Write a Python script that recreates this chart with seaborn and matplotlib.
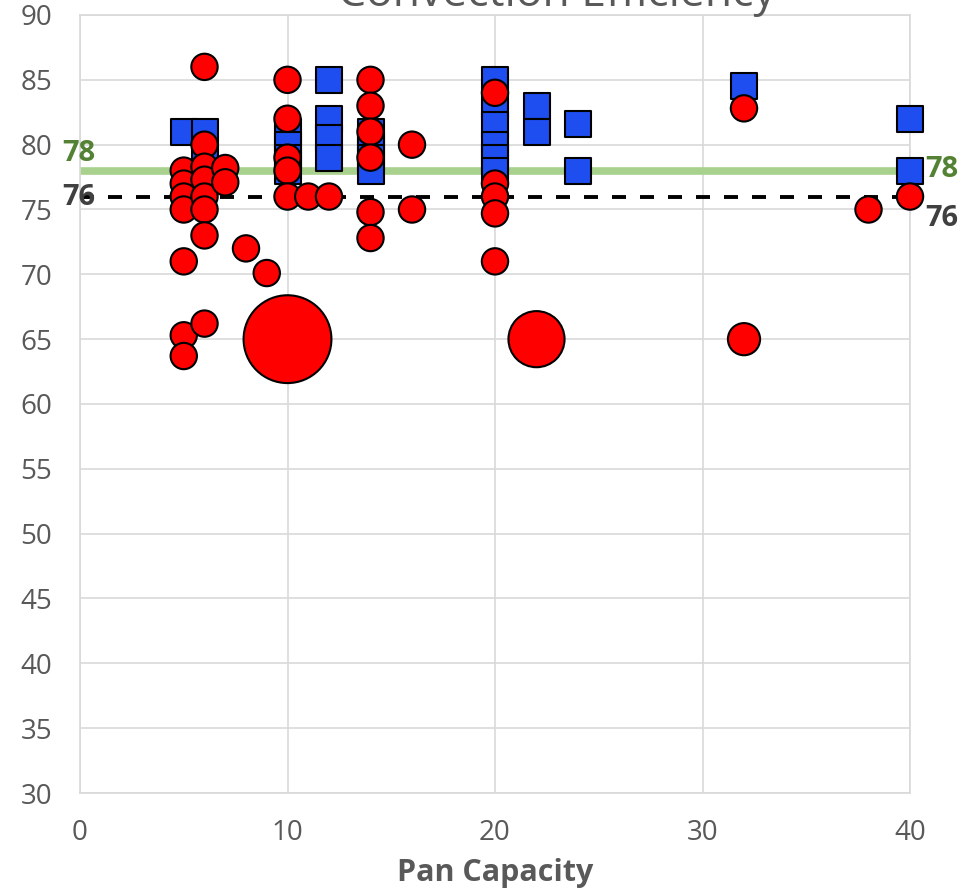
import numpy as np
import pandas as pd
import matplotlib
matplotlib.use("Agg")
import matplotlib.pyplot as plt
import seaborn as sns

# datos
blue_x = [5, 6, 6, 10, 10, 10, 10, 12, 12, 12, 12, 14, 14, 14, 14,
          20, 20, 20, 20, 20, 20, 22, 22, 24, 24, 32, 40, 40]
blue_y = [81, 81, 79, 81, 80, 79, 78, 85, 82, 80.5, 79, 81, 80, 79, 78,
          85, 83, 81.5, 80, 79, 78, 83, 81, 81.6, 78, 84.5, 82, 78]

red_x = [5, 5, 5, 5, 5, 5, 5,
         6, 6, 6, 6, 6, 6, 6, 6,
         7, 7, 8, 9,
         10, 10, 10, 10, 10, 10,
         11, 12,
         14, 14, 14, 14, 14, 14,
         16, 16,
         20, 20, 20, 20, 20,
         22, 32, 32, 38, 40]
red_y = [78, 77, 76, 75, 71, 65.3, 63.7,
         86, 80, 78.3, 77.3, 76, 75, 73, 66.2,
         78.2, 77.1, 72, 70.1,
         85, 82, 79, 78, 76, 65,
         76, 76,
         85, 83, 81, 79, 74.8, 72.8,
         80, 75,
         84, 77, 76, 74.7, 71,
         65, 82.8, 65, 75, 76]
red_w = [1] * len(red_x)
red_w[red_x.index(10) + 5] = 11.3   # burbuja grande en 10
red_w[red_x.index(22)] = 4.6
red_w[red_x.index(32) + 1] = 1.5

green_ref = 78
black_ref = 76

blue = pd.DataFrame({"cap": blue_x, "eff": blue_y})
red = pd.DataFrame({"cap": red_x, "eff": red_y, "w": red_w})

sns.set_style("white")
plt.rcParams["font.family"] = ["Open Sans", "DejaVu Sans"]

fig = plt.figure(figsize=(9.61, 8.9), dpi=100)
ax = fig.add_axes([80 / 961, 1 - 793 / 890, 830 / 961, 778 / 890])

ax.plot([0, 40], [green_ref, green_ref], color="#a9d18e", lw=5.5, zorder=1)
ax.plot([0, 40], [black_ref, black_ref], color="black", lw=2.8,
        ls=(0, (3.6, 3.6)), zorder=1)

sns.scatterplot(data=blue, x="cap", y="eff", marker="s", s=360,
                color="#1f4ef0", edgecolor="black", linewidth=1.5,
                ax=ax, zorder=3, legend=False, clip_on=False)
sns.scatterplot(data=red, x="cap", y="eff", size="w", sizes=(360, 4000),
                size_norm=(1, 11.3), color="red", edgecolor="black",
                linewidth=1.5, ax=ax, zorder=4, legend=False, clip_on=False)

ax.set_xlim(0, 40)
ax.set_ylim(30, 90)
ax.set_xticks(range(0, 41, 10))
ax.set_yticks(range(30, 91, 5))
ax.grid(True, color="#d9d9d9", lw=1.2)
for s in ax.spines.values():
    s.set_color("#d9d9d9")
    s.set_linewidth(1.2)
ax.tick_params(length=0, labelsize=20, labelcolor="#595959")
ax.tick_params(axis="x", pad=19)
ax.tick_params(axis="y", pad=20)
ax.set_xlabel("Pan Capacity", fontsize=22, fontweight="bold",
              color="#595959", labelpad=8)
ax.set_ylabel("")

lbl = dict(fontsize=21, fontweight="bold", ha="left", va="center", clip_on=False)
ax.text(-0.85, 79.3, "78", color="#548235", **lbl)
ax.text(-0.85, 75.96, "76", color="#404040", **lbl)
ax.text(40.75, 78.1, "78", color="#548235", **lbl)
ax.text(40.75, 74.3, "76", color="#404040", **lbl)

fig.text(557 / 961, 1 - 6 / 890, "Convection Efficiency", fontsize=32,
         color="#595959", ha="center", va="baseline")

fig.savefig("out.png", dpi=100)
